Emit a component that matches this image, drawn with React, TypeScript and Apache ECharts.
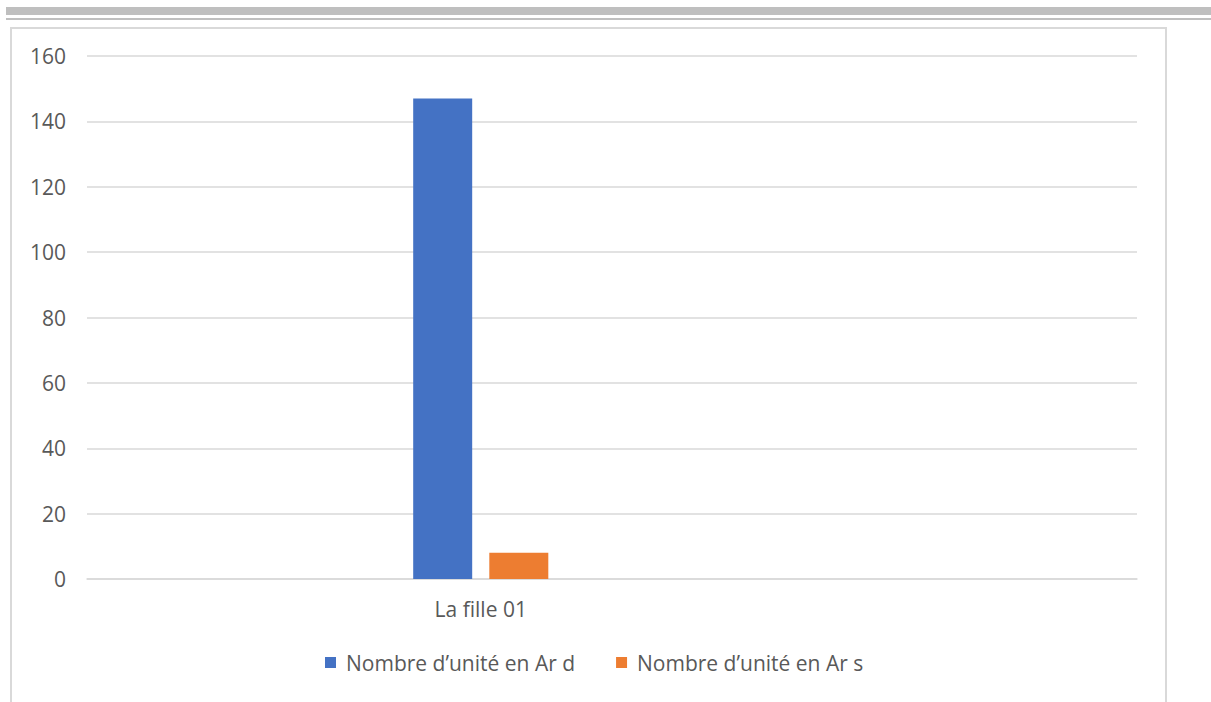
import React, { useEffect, useRef } from "react";
import * as echarts from "echarts";

// Categories along the x axis (only the second slot is labelled)
const categories: string[] = ["", "La fille 01", "", ""];
// Series values
const seriesNames: string[] = ["Nombre d’unité en Ar d", "Nombre d’unité en Ar s"];
const valuesD: (number | null)[] = [null, 147, null, null];
const valuesS: (number | null)[] = [null, 8, null, null];
// Value axis range
const yMax = 160;
const yStep = 20;

const FONT = "'Open Sans', 'Noto Sans', sans-serif";
const TEXT = "#595959";
const GRID = "#d9d9d9";

export default function App() {
  const ref = useRef<HTMLDivElement>(null);

  useEffect(() => {
    if (!ref.current) return;
    const chart = echarts.init(ref.current, undefined, { renderer: "svg" });
    chart.setOption({
      animation: false,
      backgroundColor: "#ffffff",
      textStyle: { fontFamily: FONT },
      graphic: [
        { type: "rect", shape: { x: 6, y: 7, width: 1205, height: 8 }, style: { fill: "#bfbfbf" } },
        { type: "rect", shape: { x: 6, y: 18, width: 1205, height: 2 }, style: { fill: "#bfbfbf" } },
        {
          type: "rect",
          shape: { x: 11, y: 28, width: 1155, height: 680 },
          style: { fill: "none", stroke: GRID, lineWidth: 2 },
        },
      ],
      grid: { left: 87, right: 74, top: 56, bottom: 123, containLabel: false },
      legend: {
        left: 325,
        top: 652,
        padding: 0,
        itemWidth: 11,
        itemHeight: 11,
        itemGap: 41,
        icon: "rect",
        textStyle: { color: TEXT, fontSize: 21, fontFamily: FONT, padding: [0, 0, 0, 5] },
        data: seriesNames,
      },
      xAxis: {
        type: "category",
        data: categories,
        axisTick: { show: false },
        axisLine: { lineStyle: { color: GRID, width: 1.5 } },
        axisLabel: { color: TEXT, fontSize: 21, fontFamily: FONT, margin: 19 },
      },
      yAxis: {
        type: "value",
        min: 0,
        max: yMax,
        interval: yStep,
        axisLine: { show: false },
        axisTick: { show: false },
        splitLine: { lineStyle: { color: GRID, width: 1.5 } },
        axisLabel: { color: TEXT, fontSize: 21, fontFamily: FONT, margin: 21 },
      },
      series: [
        {
          name: seriesNames[0],
          type: "bar",
          data: valuesD,
          barWidth: 59,
          barGap: "29%",
          itemStyle: { color: "#4472c4" },
        },
        {
          name: seriesNames[1],
          type: "bar",
          data: valuesS,
          barWidth: 59,
          itemStyle: { color: "#ed7d31" },
        },
      ],
    });
    return () => chart.dispose();
  }, []);

  return (
    <div
      ref={ref}
      style={{ position: "fixed", left: 0, top: 0, width: 1211, height: 702, background: "#fff" }}
    />
  );
}
